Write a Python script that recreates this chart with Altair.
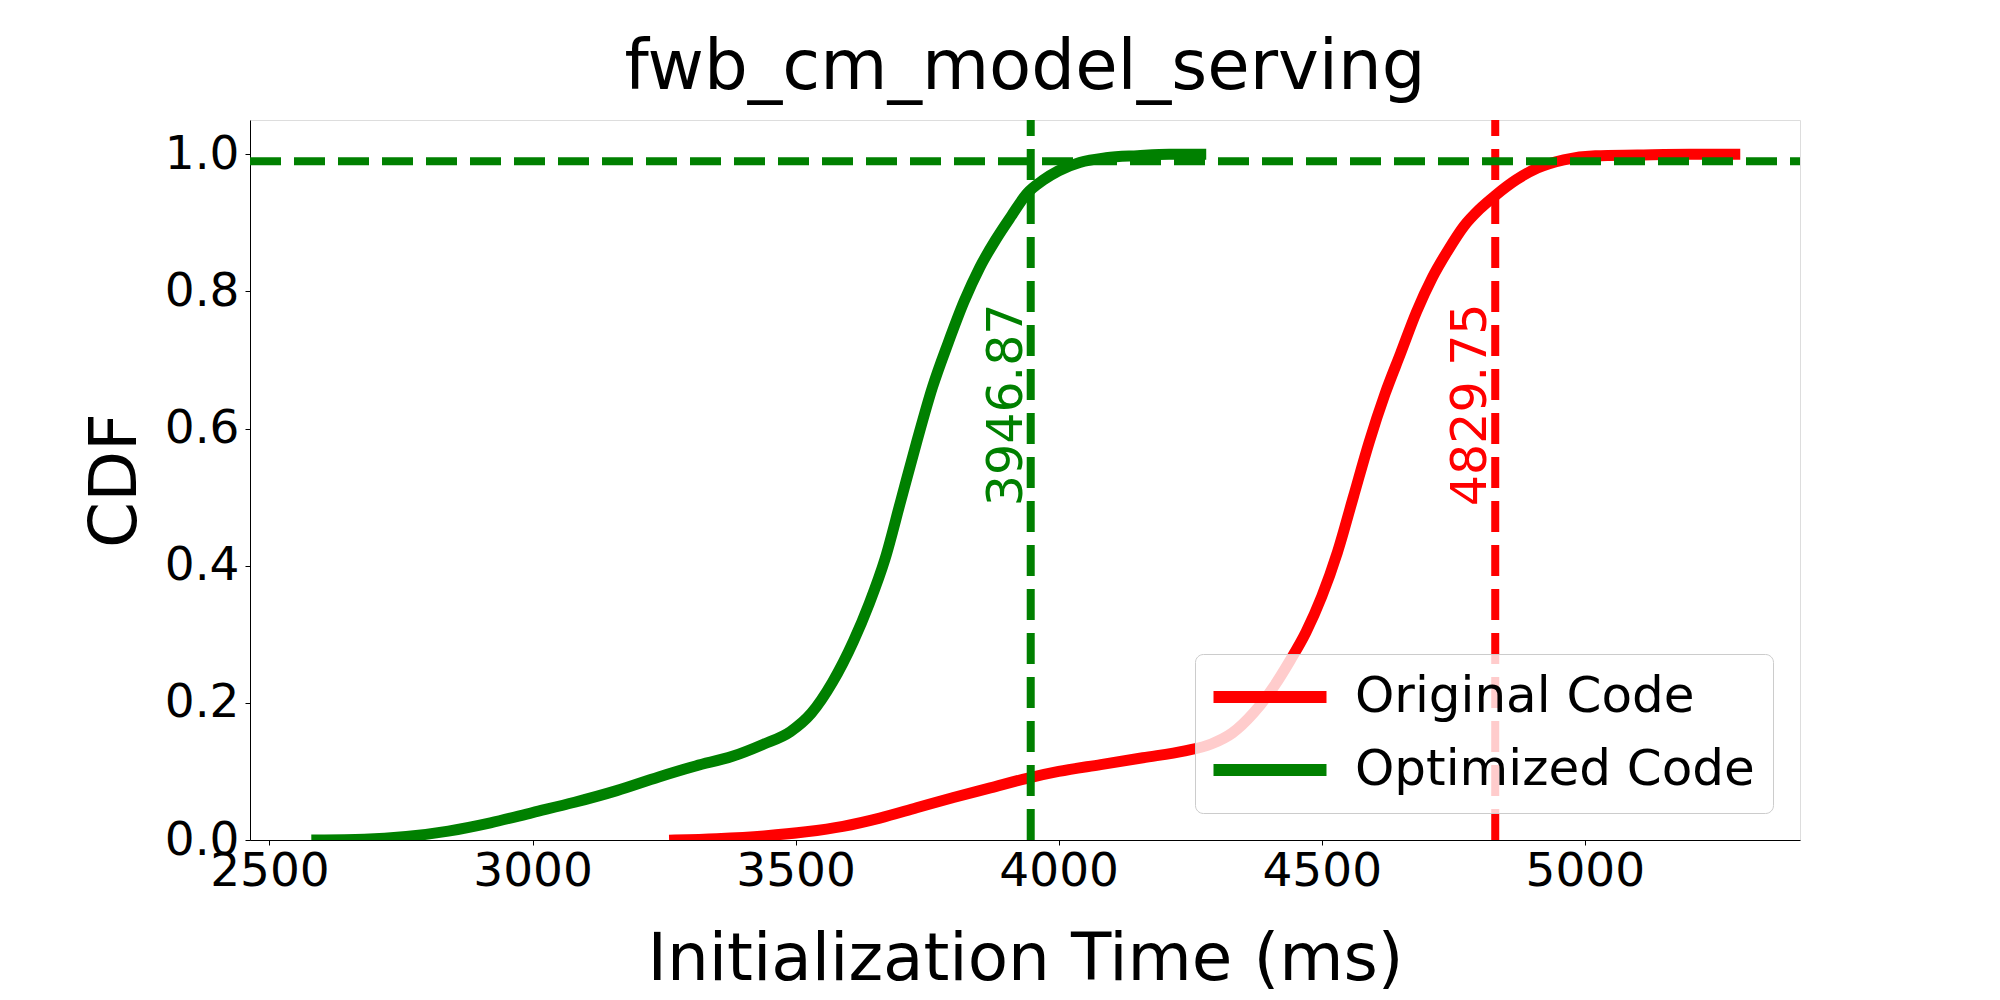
import altair as alt
import pandas as pd

# ---- data ----
series_names = ["Original Code", "Optimized Code"]
series_colors = ["red", "green"]

orig_x = [3270, 3350, 3440, 3520, 3590, 3660, 3730, 3800, 3870, 3940, 4000, 4080, 4160,
          4240, 4290, 4330, 4370, 4410, 4440, 4470, 4500, 4530, 4560, 4590, 4620, 4650,
          4680, 4710, 4740, 4770, 4800, 4830, 4870, 4910, 4960, 5020, 5100, 5200, 5285]
orig_y = [0.0, 0.002, 0.006, 0.012, 0.02, 0.032, 0.047, 0.062, 0.076, 0.09, 0.1, 0.11, 0.12,
          0.13, 0.14, 0.156, 0.185, 0.225, 0.262, 0.303, 0.355, 0.42, 0.5, 0.58, 0.65, 0.71,
          0.77, 0.82, 0.86, 0.895, 0.92, 0.94, 0.963, 0.98, 0.992, 0.998, 0.999, 1.0, 1.0]

opt_x = [2590, 2680, 2760, 2840, 2920, 3000, 3080, 3160, 3240, 3310, 3380, 3440, 3490, 3530,
         3570, 3610, 3640, 3670, 3700, 3730, 3760, 3790, 3820, 3850, 3880, 3910, 3940, 3970,
         4000, 4040, 4090, 4150, 4210, 4270]
opt_y = [0.0, 0.001, 0.005, 0.013, 0.025, 0.04, 0.055, 0.072, 0.092, 0.108, 0.122, 0.14, 0.158,
         0.185, 0.23, 0.29, 0.345, 0.41, 0.495, 0.58, 0.66, 0.725, 0.785, 0.835, 0.875, 0.91,
         0.943, 0.962, 0.976, 0.988, 0.995, 0.998, 1.0, 1.0]

p99_values = [4829.75, 3946.87]
p99_labels = ["4829.75", "3946.87"]
hline_value = 0.99

x_ticks = [2500, 3000, 3500, 4000, 4500, 5000]
y_ticks = [0.0, 0.2, 0.4, 0.6, 0.8, 1.0]
x_domain = [2463, 5409]
y_domain = [0, 1.05]

FONT = "DejaVu Sans"

rows = []
for i, (xv, yv) in enumerate(zip(orig_x, orig_y)):
    rows.append({"x": xv, "y": yv, "series": series_names[0], "order": i})
for i, (xv, yv) in enumerate(zip(opt_x, opt_y)):
    rows.append({"x": xv, "y": yv, "series": series_names[1], "order": i})
df = pd.DataFrame(rows)

vdf = pd.DataFrame({"x": p99_values, "label": p99_labels, "color": series_colors})

x_scale = alt.Scale(domain=x_domain, nice=False, zero=False)
y_scale = alt.Scale(domain=y_domain, nice=False, zero=False)

x_axis = alt.Axis(values=x_ticks, format="d", grid=False, labelFontSize=47, labelFont=FONT,
                  labelColor="black", tickColor="black", tickSize=5, tickWidth=1,
                  domainColor="black", domainWidth=1, labelPadding=3,
                  titleFontSize=66, titleFont=FONT, titleFontWeight="normal", titleColor="black",
                  titleY=139, titleBaseline="alphabetic", labelFlush=False)
y_axis = alt.Axis(values=y_ticks, format=".1f", grid=False, labelFontSize=47, labelFont=FONT,
                  labelColor="black", tickColor="black", tickSize=5, tickWidth=1,
                  domainColor="black", domainWidth=1, labelPadding=6,
                  titleFontSize=66, titleFont=FONT, titleFontWeight="normal", titleColor="black",
                  titleAngle=270, titleX=-115, titleY=360, titleAlign="center",
                  titleBaseline="alphabetic", labelFlush=False)

legend = alt.Legend(title=None, orient="none", legendX=945, legendY=534,
                    symbolType="M-4,0H4", symbolSize=798, symbolStrokeWidth=12,
                    symbolOffset=32, labelOffset=60, labelLimit=800,
                    labelFontSize=50, labelFont=FONT, labelColor="black",
                    fillColor="rgba(255,255,255,0.8)", strokeColor="#cccccc",
                    cornerRadius=8, padding=18, rowPadding=23)

color = alt.Color("series:N", scale=alt.Scale(domain=series_names, range=series_colors),
                  sort=series_names, legend=legend)

lines = alt.Chart(df).mark_line(strokeWidth=11, clip=True, interpolate="monotone",
                                strokeCap="square").encode(
    x=alt.X("x:Q", scale=x_scale, axis=x_axis, title="Initialization Time (ms)"),
    y=alt.Y("y:Q", scale=y_scale, axis=y_axis, title="CDF"),
    color=color,
    order="order:Q",
)

vlines = alt.Chart(vdf).mark_rule(strokeWidth=8, strokeDash=[31, 13]).encode(
    x="x:Q",
    y=alt.datum(y_domain[0]),
    y2=alt.datum(y_domain[1]),
    color=alt.Color("color:N", scale=None),
)

hline = alt.Chart(vdf.head(1)).mark_rule(strokeWidth=8, strokeDash=[31, 13], color="green").encode(
    x=alt.datum(x_domain[0]),
    x2=alt.datum(x_domain[1]),
    y=alt.datum(hline_value),
)

# dx/dy act in the rotated text frame: dx moves along the text, dy across it
labels = alt.Chart(vdf).mark_text(angle=270, align="left", baseline="alphabetic",
                                  dx=-9, dy=-9, fontSize=49, font=FONT).encode(
    x="x:Q",
    y=alt.datum(0.5),
    text="label:N",
    color=alt.Color("color:N", scale=None),
)

chart = alt.layer(lines, vlines, hline, labels).properties(
    width=1550, height=720,
    title=alt.TitleParams("fwb_cm_model_serving", fontSize=69, font=FONT, fontWeight="normal",
                          color="black", anchor="middle", offset=28, baseline="alphabetic",
                          dy=70),
    autosize=alt.AutoSizeParams(type="none"),
    padding={"left": 242, "top": 112, "right": 190, "bottom": 170},
).configure_view(stroke="black", strokeWidth=1).configure(background="white")

chart.save("out.html", embed_options={"renderer": "svg", "actions": False})
